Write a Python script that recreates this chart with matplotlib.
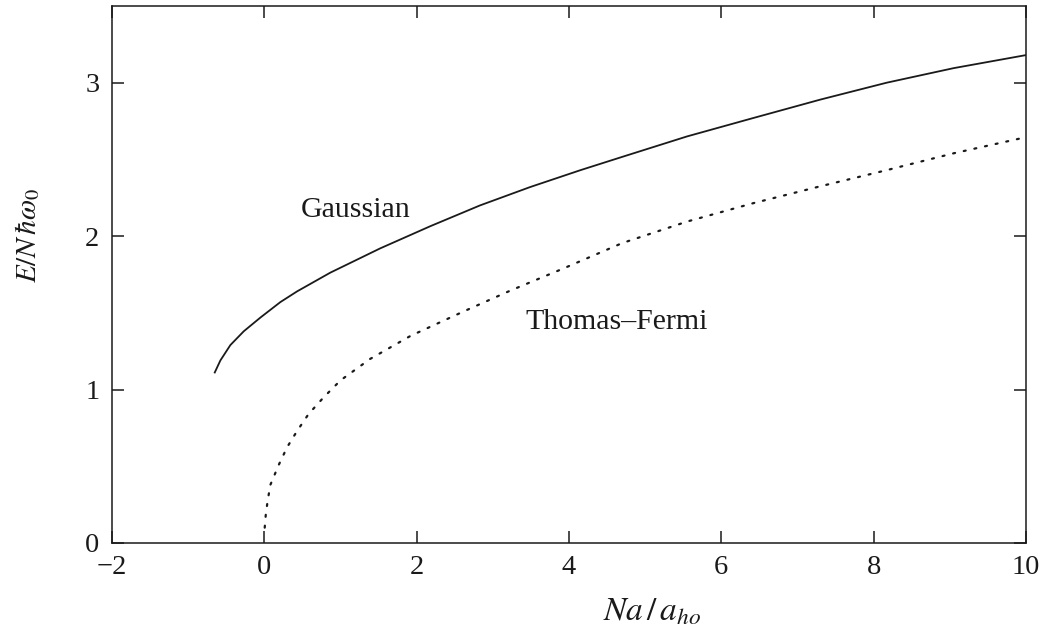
import matplotlib
matplotlib.use("Agg")
import matplotlib.pyplot as plt

# Gaussian variational energy
gauss_x = [-0.656, -0.577, -0.446, -0.27, -0.05, 0.21, 0.43, 0.866, 1.52,
           2.18, 2.83, 3.49, 4.15, 4.72, 5.55, 6.42, 7.30, 8.17, 9.05, 10.0]
gauss_y = [1.106, 1.19, 1.29, 1.38, 1.47, 1.57, 1.64, 1.762, 1.92,
           2.065, 2.20, 2.32, 2.43, 2.52, 2.65, 2.77, 2.89, 3.00, 3.095, 3.18]

# Thomas-Fermi energy
tf_x = [0.005, 0.02, 0.045, 0.08, 0.19, 0.30, 0.43, 0.58, 0.78, 1.0,
        1.39, 1.92, 2.62, 3.23, 3.93, 4.70, 5.55, 6.42, 7.30, 8.17, 9.05, 10.0]
tf_y = [0.10, 0.19, 0.28, 0.38, 0.51, 0.625, 0.73, 0.84, 0.95, 1.06,
        1.20, 1.35, 1.51, 1.645, 1.79, 1.955, 2.095, 2.215, 2.325, 2.43,
        2.54, 2.645]

x_ticks = [-2, 0, 2, 4, 6, 8, 10]
y_ticks = [0, 1, 2, 3]

plt.rcParams['font.family'] = ['Liberation Serif', 'DejaVu Serif']
plt.rcParams['mathtext.fontset'] = 'stix'

W, H = 1058, 639
fig = plt.figure(figsize=(W / 100, H / 100), dpi=100)
ax = fig.add_axes([112 / W, 1 - 543 / H, (1026 - 112) / W, (543 - 6) / H])

ink = '#1a1a1a'
ax.plot(gauss_x, gauss_y, color=ink, lw=1.3, solid_capstyle='butt',
        solid_joinstyle='round')
ax.plot(tf_x, tf_y, color=ink, lw=1.6, linestyle=(0, (0.9, 4.0)),
        dash_capstyle='round')

ax.set_xlim(-2, 10)
ax.set_ylim(0, 3.5)
ax.set_xticks(x_ticks)
ax.set_yticks(y_ticks)
ax.set_xticklabels(['\u22122' if t < 0 else str(t) for t in x_ticks])

ax.tick_params(direction='in', length=8.5, width=1.1, colors=ink,
               labelsize=20.5, top=True, right=True)
ax.tick_params(axis='x', pad=9)
ax.tick_params(axis='y', pad=9)
for s in ax.spines.values():
    s.set_linewidth(1.1)
    s.set_color(ink)

ax.text(1.2, 2.17, 'Gaussian', fontsize=21.5, ha='center', va='center',
        color=ink)
ax.text(4.62, 1.44, 'Thomas\u2013Fermi', fontsize=21.5, ha='center',
        va='center', color=ink)

fig.text(28 / W, 1 - 235 / H, r'$E/N\,\hbar\omega_0$', rotation=90,
         fontsize=21, ha='center', va='center', color=ink)
fig.text(652 / W, 1 - 612 / H, r'$Na\,/\,a_{ho}$', fontsize=24,
         ha='center', va='center', color=ink)

fig.savefig('out.png', dpi=100)
